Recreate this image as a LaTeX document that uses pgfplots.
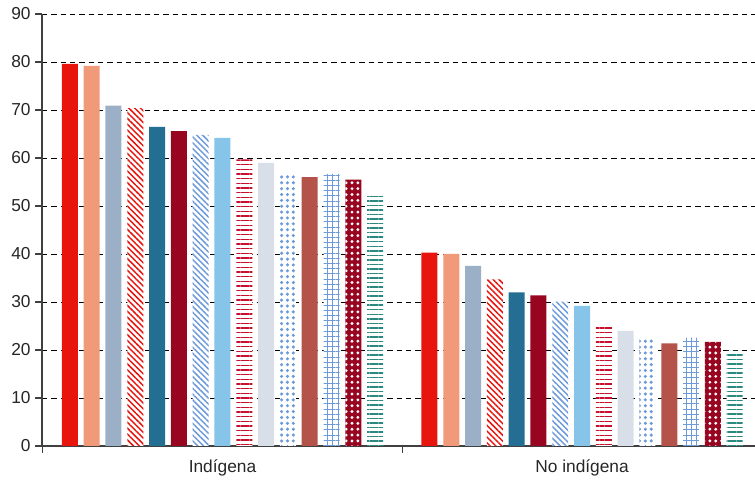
\documentclass[border=0pt]{standalone}
\usepackage{fontspec}
\setmainfont{Liberation Sans}
\usepackage{pgfplots}
\pgfplotsset{compat=1.18}
\usetikzlibrary{patterns.meta}

\definecolor{cRed}{HTML}{E8140E}
\definecolor{cSalmon}{HTML}{F09A7A}
\definecolor{cGrayBlue}{HTML}{9BB0C7}
\definecolor{cTeal}{HTML}{236E92}
\definecolor{cDarkRed}{HTML}{970520}
\definecolor{cHatchBlue}{HTML}{6D9AD8}
\definecolor{cLightBlue}{HTML}{86C5E9}
\definecolor{cLineRed}{HTML}{C8102E}
\definecolor{cLightGray}{HTML}{D8DFE9}
\definecolor{cBrown}{HTML}{B3534A}
\definecolor{cGreen}{HTML}{2A8A80}
\definecolor{cAxis}{HTML}{404040}

\begin{document}
\begin{tikzpicture}
\begin{axis}[
    width=534.75pt, height=324pt, scale only axis,
    xmin=-0.502, xmax=1.481, ymin=0, ymax=90,
    ybar=4.35pt, bar width=12pt,
    axis x line*=bottom, axis y line*=left,
    axis line style={color=cAxis, line width=1.1pt},
    ytick={0,10,...,90},
    xtick={-0.5,0.5}, xticklabels={,},
    extra x ticks={0,1},
    extra x tick labels={Indígena, No indígena},
    extra x tick style={major tick length=0pt, xticklabel style={yshift=-7pt}},
    tick align=outside, major tick length=5pt,
    tick style={color=cAxis, line width=0.9pt},
    ymajorgrids,
    grid style={black, dashed, dash pattern=on 4pt off 3pt, line width=0.7pt},
    tick label style={font=\fontsize{13}{15}\selectfont, color=black!85},
    /pgf/number format/assume math mode=true,
    every axis plot/.append style={draw=none},
    pat/.style={preaction={fill=white}},
]
\addplot[fill=cRed] coordinates {(0,79.6) (1,40.3)};
\addplot[fill=cSalmon] coordinates {(0,79.2) (1,40.0)};
\addplot[fill=cGrayBlue] coordinates {(0,70.9) (1,37.5)};
\addplot[pat, pattern={Lines[angle=-45,distance=3.1pt,line width=1.1pt]}, pattern color=cRed] coordinates {(0,70.4) (1,34.7)};
\addplot[fill=cTeal] coordinates {(0,66.5) (1,32.0)};
\addplot[fill=cDarkRed] coordinates {(0,65.6) (1,31.4)};
\addplot[pat, pattern={Lines[angle=-45,distance=3.1pt,line width=1.1pt]}, pattern color=cHatchBlue] coordinates {(0,64.8) (1,30.1)};
\addplot[fill=cLightBlue] coordinates {(0,64.2) (1,29.2)};
\addplot[pat, pattern={Lines[angle=0,distance=3.5pt,line width=1.2pt]}, pattern color=cLineRed] coordinates {(0,59.7) (1,25.1)};
\addplot[fill=cLightGray] coordinates {(0,59.0) (1,24.0)};
\addplot[pat, pattern={Dots[distance=4.4pt,radius=1.3pt]}, pattern color=cHatchBlue] coordinates {(0,56.9) (1,22.6)};
\addplot[fill=cBrown] coordinates {(0,56.0) (1,21.4)};
\addplot[pat, pattern={Hatch[distance=3.9pt,line width=0.75pt]}, pattern color=cHatchBlue] coordinates {(0,56.7) (1,22.6)};
\addplot[fill=cDarkRed, postaction={pattern={Dots[distance=4.4pt,radius=1.2pt]}, pattern color=white}] coordinates {(0,55.5) (1,21.7)};
\addplot[pat, pattern={Lines[angle=0,distance=3.4pt,line width=1.1pt]}, pattern color=cGreen] coordinates {(0,52.5) (1,19.8)};
\end{axis}
\pgfresetboundingbox
\path[use as bounding box] ([shift={(-31.5pt,-27pt)}]current axis.south west) rectangle ([shift={(0pt,10.5pt)}]current axis.north east);
\end{tikzpicture}
\end{document}
